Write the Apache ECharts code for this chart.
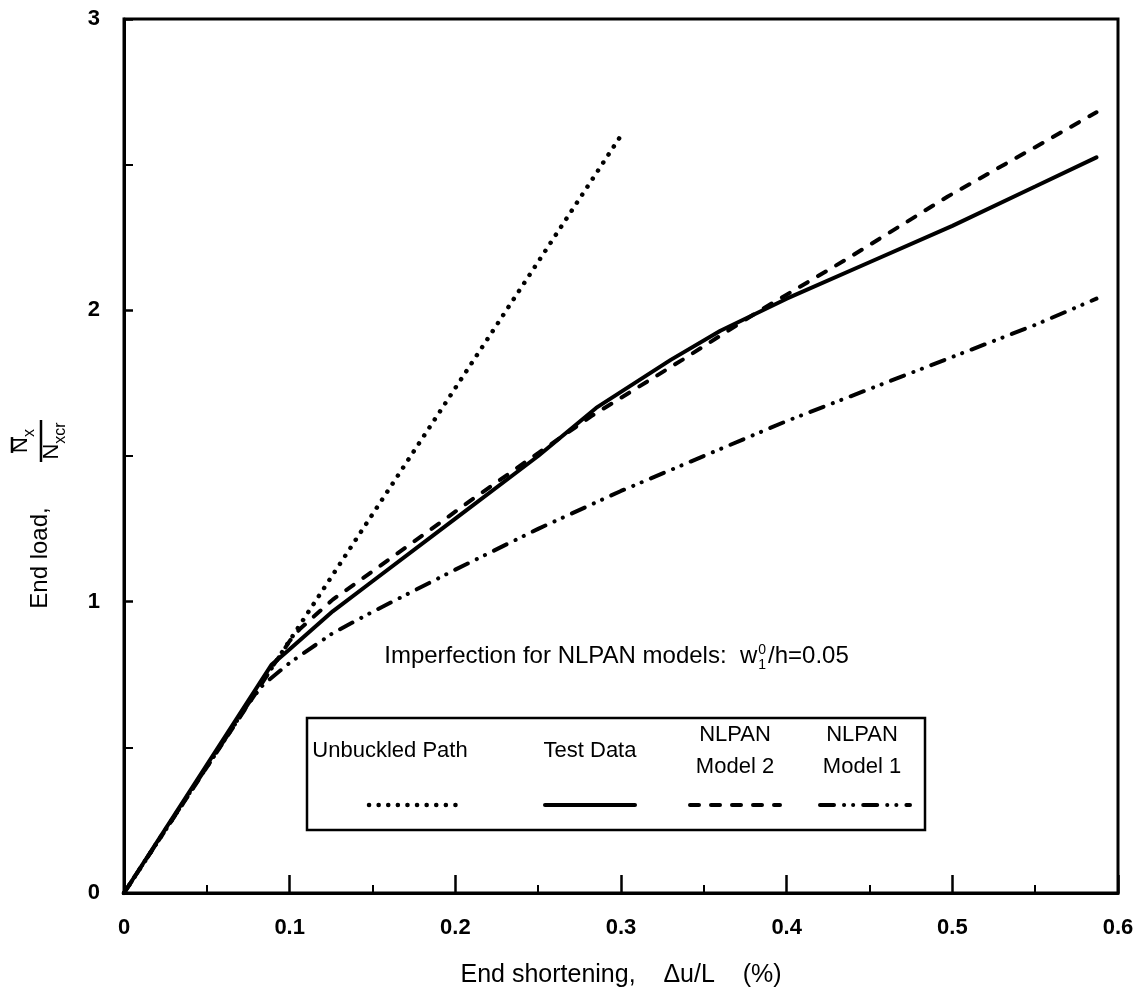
<!DOCTYPE html>
<html><head><meta charset="utf-8">
<script src="https://cdn.jsdelivr.net/npm/echarts@6/dist/echarts.min.js"></script>
<style>html,body{margin:0;padding:0;background:#fff}#c{width:1138px;height:997px}</style>
</head><body><div id="c"></div><script>
// ---- data ----
const unbuckledX = [0, 0.3];
const unbuckledY = [0, 2.60];
const testX = [0, 0.089, 0.1, 0.126, 0.15, 0.2, 0.25, 0.285, 0.33, 0.36, 0.4, 0.45, 0.5, 0.55, 0.587];
const testY = [0, 0.783, 0.837, 0.967, 1.07, 1.285, 1.50, 1.665, 1.83, 1.93, 2.04, 2.165, 2.29, 2.425, 2.525];
const model2X = [0, 0.08, 0.09, 0.1, 0.106, 0.126, 0.15, 0.21, 0.25, 0.283, 0.337, 0.384, 0.436, 0.497, 0.55, 0.587];
const model2Y = [0, 0.69, 0.78, 0.865, 0.905, 1.007, 1.104, 1.35, 1.51, 1.64, 1.83, 2.0, 2.175, 2.39, 2.56, 2.68];
const model1X = [0, 0.075, 0.084, 0.1, 0.126, 0.15, 0.2, 0.25, 0.3, 0.35, 0.4, 0.45, 0.5, 0.55, 0.587];
const model1Y = [0, 0.65, 0.715, 0.79, 0.892, 0.965, 1.11, 1.25, 1.38, 1.50, 1.62, 1.73, 1.84, 1.95, 2.04];
const xTickLabels = ['0', '0.1', '0.2', '0.3', '0.4', '0.5', '0.6'];
const yTickLabels = ['0', '1', '2', '3'];
const seriesNames = ['Unbuckled Path', 'Test Data', 'NLPAN Model 2', 'NLPAN Model 1'];
const legendLabels = ['Unbuckled Path', 'Test Data', 'NLPAN\nModel 2', 'NLPAN\nModel 1'];
const xTitle = 'End shortening,    \u0394u/L    (%)';
const noteText = 'Imperfection for NLPAN models:  w';
const noteTail = '/h=0.05';

// ---- styles ----
const FONT = '"Liberation Sans", Arial, sans-serif';
const pair = (xs, ys) => xs.map((x, i) => [x, ys[i]]);
const styles = [
  {width: 4.5, type: [0.1, 9.5], cap: 'round'},
  {width: 4, type: 'solid', cap: 'round'},
  {width: 4, type: [9, 12], cap: 'round'},
  {width: 4, type: [14, 10, 0.1, 9, 0.1, 10], cap: 'round'}
];
const datas = [pair(unbuckledX, unbuckledY), pair(testX, testY), pair(model2X, model2Y), pair(model1X, model1Y)];

const ctx = document.createElement('canvas').getContext('2d');
function tw(t, size, weight) { ctx.font = (weight || 'normal') + ' ' + size + 'px ' + FONT; return ctx.measureText(t).width; }

const chart = echarts.init(document.getElementById('c'), null, {renderer: 'canvas'});

// legend graphics
const legendBox = {x: 307, y: 718, w: 618, h: 112};
const legendTextCx = [390, 590, 735, 862];
const legendSampleCx = [414, 590, 735, 865];
const sampleHalf = 45;
const graphics = [];
graphics.push({type: 'rect', shape: {x: legendBox.x, y: legendBox.y, width: legendBox.w, height: legendBox.h},
  style: {fill: '#fff', stroke: '#000', lineWidth: 2.5}, z: 10});
legendLabels.forEach((t, i) => {
  graphics.push({type: 'text', x: legendTextCx[i], y: 751, z: 11,
    style: {text: t, font: '22px ' + FONT, fill: '#000', align: 'center', verticalAlign: 'middle', lineHeight: 32}});
  graphics.push({type: 'line', z: 11, shape: {x1: legendSampleCx[i] - sampleHalf, y1: 805, x2: legendSampleCx[i] + sampleHalf, y2: 805},
    style: {stroke: '#000', lineWidth: styles[i].width, lineDash: styles[i].type === 'solid' ? null : styles[i].type, lineCap: styles[i].cap}});
});

// note text with stacked super/subscript
(function () {
  const fs = 24, small = 14;
  const w1 = tw(noteText, fs), w2 = tw('0', small), w3 = tw(noteTail, fs);
  const total = w1 + w2 + 2 + w3;
  const cx = 616, base = 668;
  const x0 = cx - total / 2;
  graphics.push({type: 'text', x: x0, y: base, style: {text: noteText, font: fs + 'px ' + FONT, fill: '#000', align: 'left', verticalAlign: 'bottom'}});
  graphics.push({type: 'text', x: x0 + w1 + 1, y: base - 11, style: {text: '0', font: small + 'px ' + FONT, fill: '#000', align: 'left', verticalAlign: 'bottom'}});
  graphics.push({type: 'text', x: x0 + w1 + 1, y: base + 4, style: {text: '1', font: small + 'px ' + FONT, fill: '#000', align: 'left', verticalAlign: 'bottom'}});
  graphics.push({type: 'text', x: x0 + w1 + w2 + 3, y: base, style: {text: noteTail, font: fs + 'px ' + FONT, fill: '#000', align: 'left', verticalAlign: 'bottom'}});
})();

// y-axis title (rotated): "End load,  N̄x / Nxcr"
(function () {
  const fs = 24, nfs = 22, small = 16;
  const gx = 40, gy = 558;
  const children = [];
  children.push({type: 'text', x: 0, y: 0, style: {text: 'End load,', font: fs + 'px ' + FONT, fill: '#000', align: 'center', verticalAlign: 'middle'}});
  const fx = 117; // local x of fraction centre
  const wN = tw('N', nfs), wx = tw('x', small), wxcr = tw('xcr', small);
  // numerator
  const nStart = fx - (wN + wx) / 2;
  children.push({type: 'text', x: nStart, y: -8, style: {text: 'N', font: nfs + 'px ' + FONT, fill: '#000', align: 'left', verticalAlign: 'bottom'}});
  children.push({type: 'text', x: nStart + wN, y: -2, style: {text: 'x', font: small + 'px ' + FONT, fill: '#000', align: 'left', verticalAlign: 'bottom'}});
  children.push({type: 'line', shape: {x1: nStart, y1: -28, x2: nStart + wN, y2: -28}, style: {stroke: '#000', lineWidth: 2.5}});
  // bar
  children.push({type: 'line', shape: {x1: fx - 21, y1: 1, x2: fx + 21, y2: 1}, style: {stroke: '#000', lineWidth: 2.5}});
  // denominator
  const dStart = fx - (wN + wxcr) / 2;
  children.push({type: 'text', x: dStart, y: 23, style: {text: 'N', font: nfs + 'px ' + FONT, fill: '#000', align: 'left', verticalAlign: 'bottom'}});
  children.push({type: 'text', x: dStart + wN, y: 29, style: {text: 'xcr', font: small + 'px ' + FONT, fill: '#000', align: 'left', verticalAlign: 'bottom'}});
  graphics.push({type: 'group', x: gx, y: gy, rotation: Math.PI / 2, children: children});
})();

const option = {
  backgroundColor: '#fff',
  animation: false,
  grid: {left: 124, right: 20, top: 19, bottom: 104, show: true, borderColor: '#000', borderWidth: 3, backgroundColor: 'transparent'},
  xAxis: {
    type: 'value', min: 0, max: 0.6, interval: 0.1,
    name: xTitle, nameLocation: 'middle', nameGap: 70,
    nameTextStyle: {fontFamily: FONT, fontSize: 25, color: '#000'},
    axisLine: {show: true, lineStyle: {color: '#000', width: 3}},
    axisTick: {show: true, inside: true, length: 18, lineStyle: {color: '#000', width: 2.5}},
    minorTick: {show: true, splitNumber: 2, length: 8, lineStyle: {color: '#000', width: 2}},
    splitLine: {show: false}, minorSplitLine: {show: false},
    axisLabel: {margin: 24, fontFamily: FONT, fontSize: 22, fontWeight: 'bold', color: '#000',
      formatter: v => xTickLabels[Math.round(v * 10)]}
  },
  yAxis: {
    type: 'value', min: 0, max: 3, interval: 1,
    axisLine: {show: true, lineStyle: {color: '#000', width: 3}},
    axisTick: {show: true, inside: true, length: 9, lineStyle: {color: '#000', width: 2.5}},
    minorTick: {show: true, splitNumber: 2, length: 9, lineStyle: {color: '#000', width: 2}},
    splitLine: {show: false}, minorSplitLine: {show: false},
    axisLabel: {margin: 24, fontFamily: FONT, fontSize: 22, fontWeight: 'bold', color: '#000',
      formatter: v => yTickLabels[Math.round(v)]}
  },
  series: datas.map((d, i) => ({
    name: seriesNames[i], type: 'line', data: d, showSymbol: false, symbol: 'none', z: 5 - i,
    lineStyle: {color: '#000', width: styles[i].width, type: styles[i].type, cap: styles[i].cap}
  })),
  graphic: graphics
};
chart.setOption(option);
</script></body></html>
